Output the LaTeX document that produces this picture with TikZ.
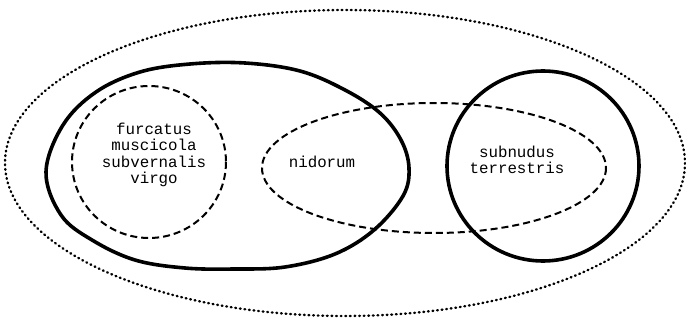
\documentclass[tikz,border=0pt]{standalone}
\usepackage{fontspec}
\setmonofont{Liberation Mono}
\begin{document}
\begin{tikzpicture}[x=1pt,y=-1pt,
    genus/.style={line width=3.6pt},
    group/.style={line width=2pt,dash pattern=on 7pt off 4pt},
    whole/.style={line width=2.4pt,line cap=round,dash pattern=on 0.8pt off 3.8pt},
    taxon/.style={font=\ttfamily\fontsize{15.8}{16.3}\selectfont,align=center,inner sep=0pt}]
    \useasboundingbox (0,0) rectangle (686,321);

    \draw[whole] (345,163) ellipse [x radius=340,y radius=153];
    \draw[genus] plot[smooth cycle,tension=0.6] coordinates {
        (46,172) (61,215) (92,240) (135,260) (185,268) (235,269) (285,267)
        (335,254) (374,230) (403,196) (409,168) (401,140) (380,113) (345,90)
        (300,71) (245,63) (190,64) (140,72) (96,92) (63,125)};
    \draw[genus] (543,166) ellipse [x radius=96,y radius=95];
    \draw[group] (149,162) ellipse [x radius=77,y radius=76];
    \draw[group] (434,168) ellipse [x radius=172,y radius=65];

    \node[taxon] (left) at (154,155) {furcatus\\muscicola\\subvernalis\\virgo};
    \node[taxon,anchor=base] (mid) at (322,167) {nidorum};
    \node[taxon] (right) at (517,160) {subnudus\\terrestris};
\end{tikzpicture}
\end{document}
